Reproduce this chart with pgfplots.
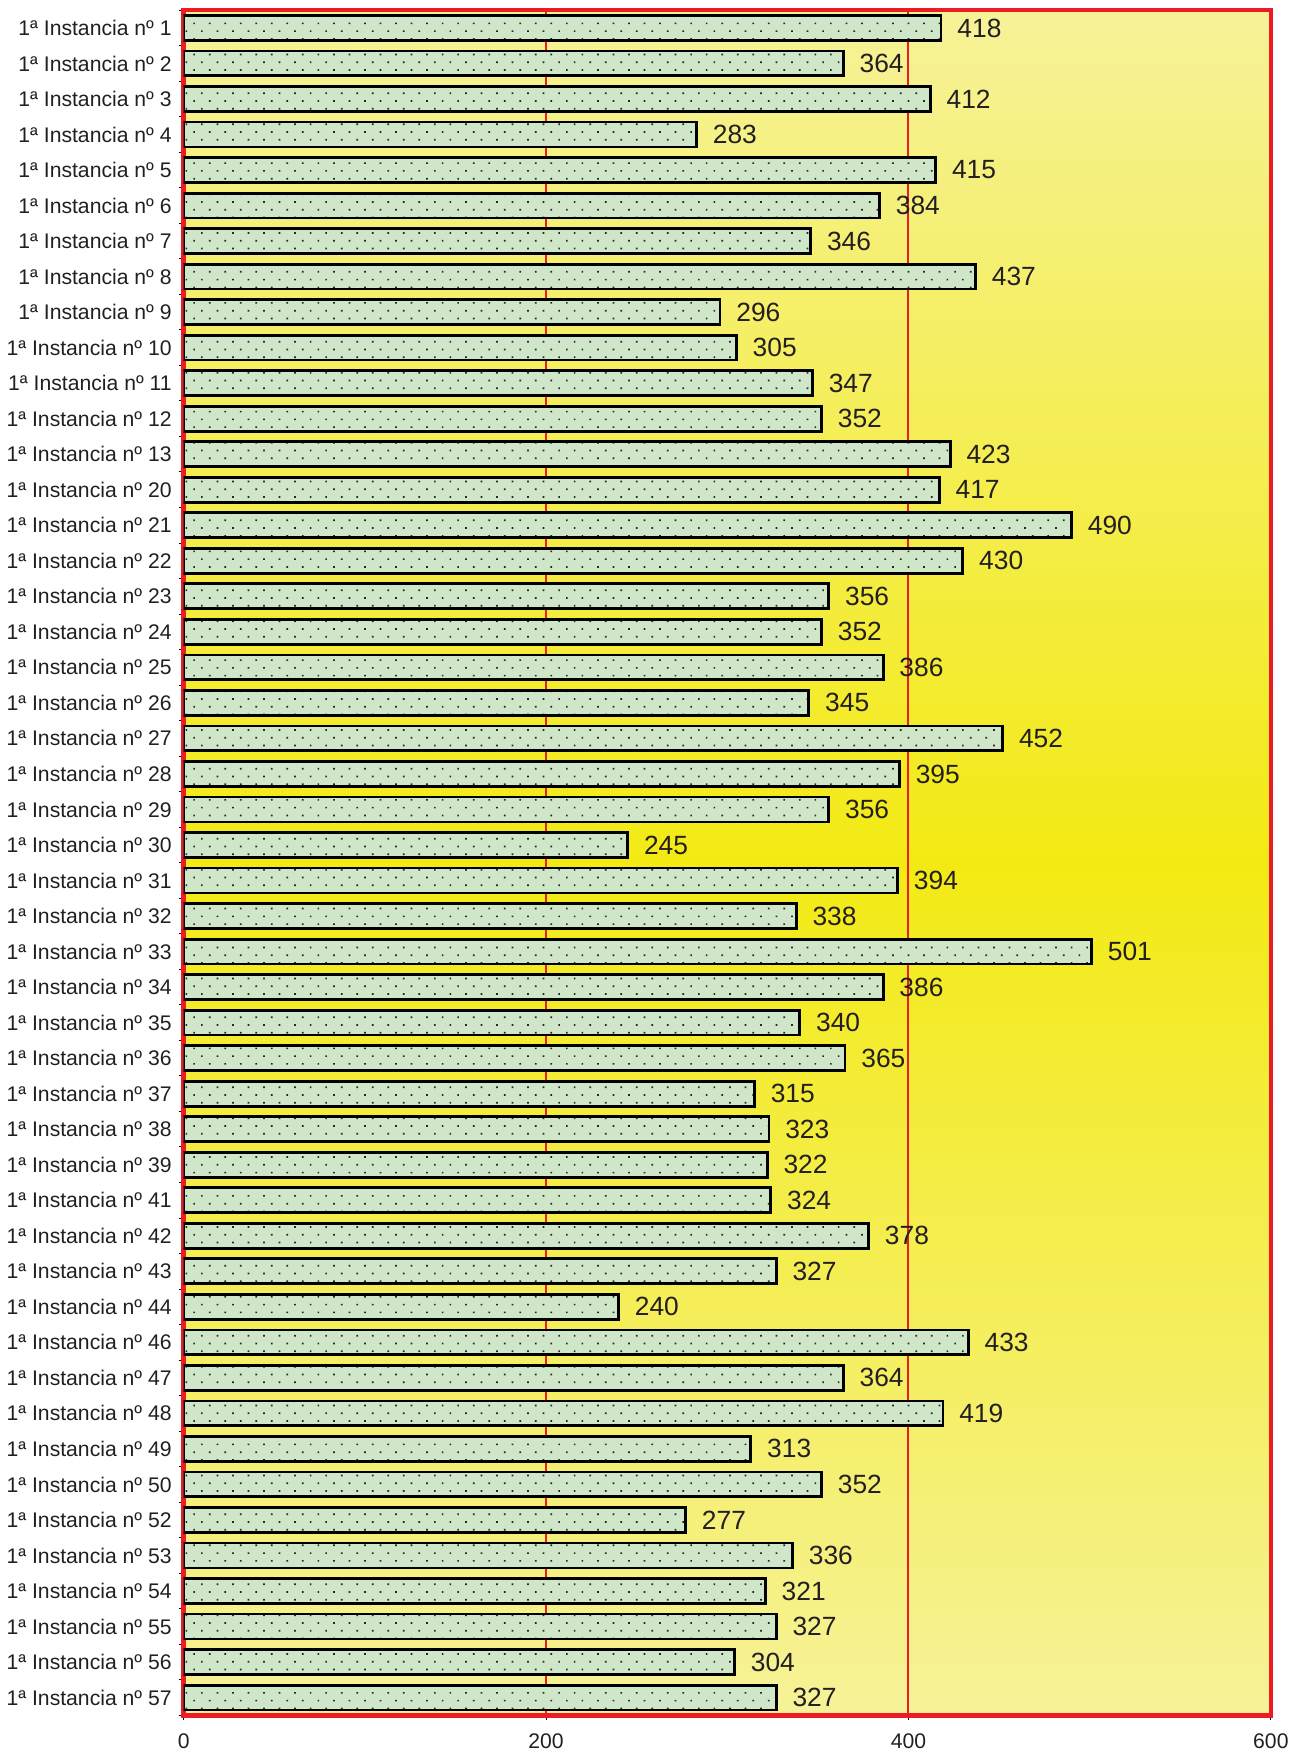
\documentclass[border=0pt]{standalone}
\usepackage{pgfplots}
\pgfplotsset{compat=1.18}
\usepackage{pgfplotstable}
\usepackage{fontspec}
\setmainfont{Liberation Sans}
\usetikzlibrary{patterns.meta}

\definecolor{barfill}{RGB}{208,230,200}
\definecolor{ylight}{RGB}{246,242,152}
\definecolor{ybright}{RGB}{243,234,20}
\definecolor{txt}{RGB}{35,31,32}
\definecolor{bordred}{RGB}{237,28,36}

% idx  value
\pgfplotstableread{
idx val
0 418
1 364
2 412
3 283
4 415
5 384
6 346
7 437
8 296
9 305
10 347
11 352
12 423
13 417
14 490
15 430
16 356
17 352
18 386
19 345
20 452
21 395
22 356
23 245
24 394
25 338
26 501
27 386
28 340
29 365
30 315
31 323
32 322
33 324
34 378
35 327
36 240
37 433
38 364
39 419
40 313
41 352
42 277
43 336
44 321
45 327
46 304
47 327
}\datatable

\begin{document}
\begin{tikzpicture}
\begin{axis}[
    scale only axis,
    width=544.5pt, height=854pt,
    xbar, bar width=0.7,
    xmin=0, xmax=600,
    ymin=-0.5, ymax=47.5,
    y dir=reverse,
    xtick={0,200,400,600},
    ytick={0,...,47},
    yticklabels={1ª Instancia nº 1,1ª Instancia nº 2,1ª Instancia nº 3,1ª Instancia nº 4,1ª Instancia nº 5,1ª Instancia nº 6,1ª Instancia nº 7,1ª Instancia nº 8,1ª Instancia nº 9,1ª Instancia nº 10,1ª Instancia nº 11,1ª Instancia nº 12,1ª Instancia nº 13,1ª Instancia nº 20,1ª Instancia nº 21,1ª Instancia nº 22,1ª Instancia nº 23,1ª Instancia nº 24,1ª Instancia nº 25,1ª Instancia nº 26,1ª Instancia nº 27,1ª Instancia nº 28,1ª Instancia nº 29,1ª Instancia nº 30,1ª Instancia nº 31,1ª Instancia nº 32,1ª Instancia nº 33,1ª Instancia nº 34,1ª Instancia nº 35,1ª Instancia nº 36,1ª Instancia nº 37,1ª Instancia nº 38,1ª Instancia nº 39,1ª Instancia nº 41,1ª Instancia nº 42,1ª Instancia nº 43,1ª Instancia nº 44,1ª Instancia nº 46,1ª Instancia nº 47,1ª Instancia nº 48,1ª Instancia nº 49,1ª Instancia nº 50,1ª Instancia nº 52,1ª Instancia nº 53,1ª Instancia nº 54,1ª Instancia nº 55,1ª Instancia nº 56,1ª Instancia nº 57},
    minor ytick={-0.5,0.5,...,47.5},
    major y tick style={draw=none},
    minor tick length=2.5pt,
    major tick length=2.5pt,
    tick align=outside,
    tick style={black, line width=0.5pt},
    xtick pos=bottom, ytick pos=left,
    ticklabel style={font=\fontsize{10.6}{12}\selectfont, text=txt},
    xticklabel style={yshift=-3pt},
    /pgf/number format/assume math mode=true,
    xmajorgrids,
    grid style={bordred, line width=1pt},
    axis line style={bordred, line width=2.2pt},
    axis background/.style={top color=ylight, bottom color=ylight, middle color=ybright},
    nodes near coords,
    every node near coord/.append style={anchor=west, inner sep=0pt, xshift=7.5pt,
        font=\fontsize{13.2}{15}\selectfont, text=txt},
]
\addplot[fill=barfill, draw=black, line width=1.4pt,
    postaction={pattern={Dots[angle=45, distance=5.5pt, radius=0.6pt]}, pattern color=black!85}]
    table[x=val, y=idx] {\datatable};
\end{axis}
% small white margins above and to the right, as in the reference
\path (current bounding box.north) ++(0,4pt);
\path (current bounding box.east) ++(4pt,0);
\end{tikzpicture}
\end{document}
